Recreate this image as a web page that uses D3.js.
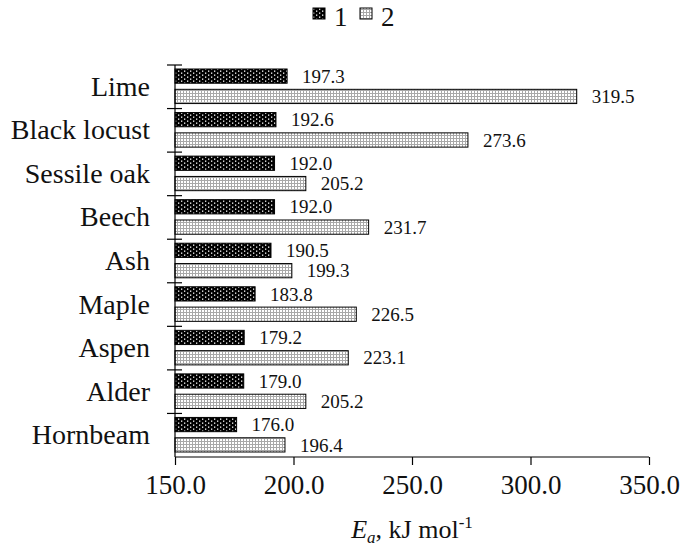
<!DOCTYPE html>
<html>
<head>
<meta charset="utf-8">
<script src="https://cdn.jsdelivr.net/npm/d3@7"></script>
<style>
  html, body { margin: 0; padding: 0; background: #fff; }
  svg { display: block; font-family: "Liberation Serif", "Times New Roman", serif; }
</style>
</head>
<body>
<svg id="chart" width="685" height="547"></svg>
<script>
const categories = ["Lime", "Black locust", "Sessile oak", "Beech", "Ash", "Maple", "Aspen", "Alder", "Hornbeam"];
const series1 = [197.3, 192.6, 192.0, 192.0, 190.5, 183.8, 179.2, 179.0, 176.0];
const series2 = [319.5, 273.6, 205.2, 231.7, 199.3, 226.5, 223.1, 205.2, 196.4];
const seriesNames = ["1", "2"];
const xTicks = [150, 200, 250, 300, 350];

const FONT = "'Liberation Serif', 'Times New Roman', serif";
const svg = d3.select("#chart");
const defs = svg.append("defs");

// pattern for series 1: black with white dots
const p1 = defs.append("pattern").attr("id", "pat1").attr("patternUnits", "userSpaceOnUse")
  .attr("width", 6).attr("height", 4);
p1.append("rect").attr("width", 6).attr("height", 4).attr("fill", "#000");
p1.append("rect").attr("x", 1).attr("y", 0.5).attr("width", 1.3).attr("height", 1.3).attr("fill", "#fff");
p1.append("rect").attr("x", 4).attr("y", 2.5).attr("width", 1.3).attr("height", 1.3).attr("fill", "#fff");

// pattern for series 2: light dotted grid
const p2 = defs.append("pattern").attr("id", "pat2").attr("patternUnits", "userSpaceOnUse")
  .attr("width", 3).attr("height", 3);
p2.append("rect").attr("width", 3).attr("height", 3).attr("fill", "#fff");
p2.append("rect").attr("x", 0).attr("y", 0).attr("width", 3).attr("height", 1).attr("fill", "#a8a8a8");
p2.append("rect").attr("x", 0).attr("y", 0).attr("width", 1).attr("height", 3).attr("fill", "#a8a8a8");

const fills = ["url(#pat1)", "url(#pat2)"];

const x = d3.scaleLinear().domain([150, 350]).range([175, 649]);
const y = d3.scaleBand().domain(categories).range([65, 457]).padding(0);
const inner = d3.scaleBand().domain([0, 1]).range([4, y.bandwidth() - 5]).paddingInner(0.3).paddingOuter(0);

const data = [];
categories.forEach((c, i) => {
  data.push({ cat: c, s: 0, v: series1[i] });
  data.push({ cat: c, s: 1, v: series2[i] });
});

// bars
svg.append("g").selectAll("rect").data(data).join("rect")
  .attr("x", x(150))
  .attr("y", d => y(d.cat) + inner(d.s))
  .attr("width", d => x(d.v) - x(150))
  .attr("height", inner.bandwidth())
  .attr("fill", d => fills[d.s])
  .attr("stroke", "#000")
  .attr("stroke-width", 1);

// value labels
svg.append("g").selectAll("text").data(data).join("text")
  .attr("x", d => x(d.v) + 15)
  .attr("y", d => y(d.cat) + inner(d.s) + inner.bandwidth() / 2)
  .attr("dy", "0.35em")
  .attr("font-size", 19)
  .attr("font-family", FONT)
  .attr("fill", "#111")
  .text(d => d.v.toFixed(1));

// x axis
const xAxis = d3.axisBottom(x).tickValues(xTicks).tickFormat(d => d.toFixed(1)).tickSize(8).tickPadding(10);
const gx = svg.append("g").attr("transform", "translate(0,457)").call(xAxis);
gx.attr("font-family", FONT);
gx.select(".domain").attr("stroke", "#000").attr("stroke-width", 1.2).attr("d", `M${x(150)},0H${x(350)}`);
gx.selectAll(".tick line").attr("stroke", "#000").attr("stroke-width", 1.2);
gx.selectAll(".tick text").attr("font-size", 27).attr("fill", "#111").attr("font-family", FONT);

// y axis
const yAxis = d3.axisLeft(y).tickSize(0).tickPadding(25);
const gy = svg.append("g").attr("transform", `translate(${x(150)},0)`).call(yAxis);
gy.attr("font-family", FONT);
gy.select(".domain").attr("stroke", "#000").attr("stroke-width", 1.2).attr("d", "M0,65V457");
gy.selectAll(".tick text").attr("font-size", 28).attr("fill", "#111").attr("font-family", FONT);
// crossing category separators
const seps = categories.map(c => y(c));
gy.append("g").selectAll("line").data(seps).join("line")
  .attr("x1", -8).attr("x2", 7)
  .attr("y1", d => d).attr("y2", d => d)
  .attr("stroke", "#000").attr("stroke-width", 1.2);

// axis title
const title = svg.append("text").attr("x", (x(150) + x(350)) / 2).attr("y", 538)
  .attr("text-anchor", "middle").attr("font-size", 26).attr("font-family", FONT).attr("fill", "#111");
title.append("tspan").attr("font-style", "italic").text("E");
title.append("tspan").attr("font-style", "italic").attr("font-size", 17).attr("dy", 5).text("a");
title.append("tspan").attr("dy", -5).text(", kJ mol");
title.append("tspan").attr("font-size", 17).attr("dy", -10).text("-1");

// legend
const legend = svg.append("g");
const legX = [313, 360];
seriesNames.forEach((n, i) => {
  legend.append("rect").attr("x", legX[i]).attr("y", 8).attr("width", 12).attr("height", 11)
    .attr("fill", fills[i]).attr("stroke", "#000").attr("stroke-width", 1);
  legend.append("text").attr("x", legX[i] + 21).attr("y", 26).attr("font-size", 27)
    .attr("font-family", FONT).attr("fill", "#111").text(n);
});
</script>
</body>
</html>
